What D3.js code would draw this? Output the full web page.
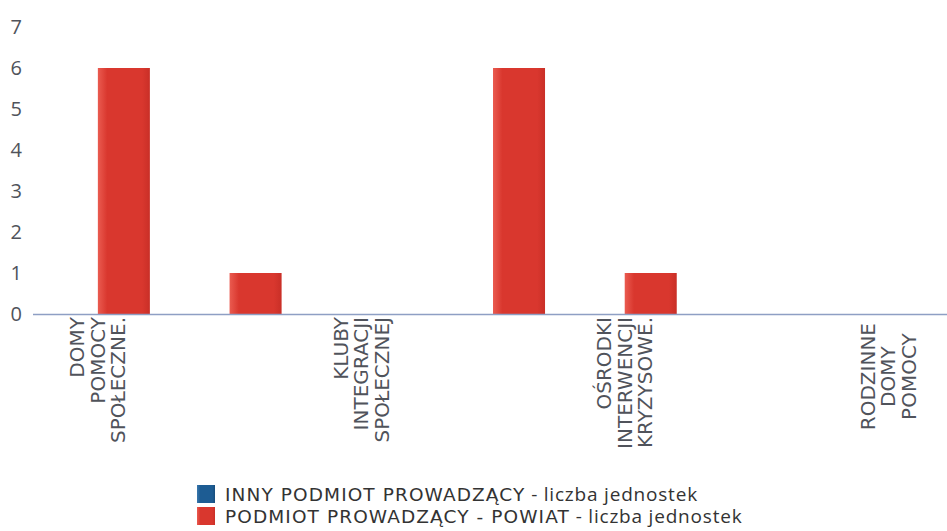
<!DOCTYPE html>
<html>
<head>
<meta charset="utf-8">
<script src="https://cdn.jsdelivr.net/npm/d3@7"></script>
<style>
  html, body { margin: 0; padding: 0; background: #fff; }
  svg { display: block; }
</style>
</head>
<body>
<div id="chart"></div>
<script>
// data
const categories = [
  ['DOMY', 'POMOCY', 'SPOŁECZNE.'],
  ['JEDNOSTKI', 'SPECJALISTYCZ.', 'PORADNICTWA'],
  ['KLUBY', 'INTEGRACJI', 'SPOŁECZNEJ'],
  ['MIESZKANIA', 'CHRONIONE'],
  ['OŚRODKI', 'INTERWENCJI', 'KRYZYSOWE.'],
  ['OŚRODKI', 'WSPARCIA'],
  ['RODZINNE', 'DOMY', 'POMOCY']
];
const seriesNames = [
  'INNY PODMIOT PROWADZĄCY - liczba jednostek',
  'PODMIOT PROWADZĄCY - POWIAT - liczba jednostek'
];
const innyValues   = [0, 0, 0, 0, 0, 0, 0];
const powiatValues = [6, 1, 0, 6, 1, 0, 0];
const yTicks = [0, 1, 2, 3, 4, 5, 6, 7];
const labelEvery = 2; // only every other category label fits

const W = 947, H = 531;
const colors = { inny: '#1d5c93', powiat: '#d9372e' };
const wideFont = '"DejaVu Sans", sans-serif';

const svg = d3.select('#chart').append('svg')
  .attr('width', W).attr('height', H)
  .style('font-family', '"Open Sans", sans-serif');

// bar gradients
const defs = svg.append('defs');
function grad(id, light, mid, dark){
  const g = defs.append('linearGradient').attr('id', id)
    .attr('x1', '0').attr('x2', '1').attr('y1', '0').attr('y2', '0');
  g.append('stop').attr('offset', '0%').attr('stop-color', light);
  g.append('stop').attr('offset', '18%').attr('stop-color', mid);
  g.append('stop').attr('offset', '85%').attr('stop-color', mid);
  g.append('stop').attr('offset', '100%').attr('stop-color', dark);
}
grad('g-inny', '#3a78ad', colors.inny, '#174d7c');
grad('g-powiat', '#ea5b50', colors.powiat, '#c92f27');

const keys = categories.map(c => c.join(' '));
const x0 = d3.scaleBand().domain(keys).range([32, 954])
  .paddingInner(0.21).paddingOuter(0.105);
const x1 = d3.scaleBand().domain(['inny', 'powiat']).range([0, x0.bandwidth()]);
const y = d3.scaleLinear().domain([0, 7]).range([314, 27]);

const rows = keys.map((k, i) => ({ key: k, lines: categories[i], inny: innyValues[i], powiat: powiatValues[i] }));

// y axis labels
const yAxis = d3.axisLeft(y).tickValues(yTicks).tickSize(0).tickPadding(0).tickFormat(d3.format('d'));
const gy = svg.append('g').attr('transform', 'translate(22,0)').call(yAxis);
gy.select('.domain').remove();
gy.selectAll('text')
  .attr('fill', '#50535b')
  .style('font-size', '20px')
  .style('font-family', '"Open Sans", sans-serif');

// bars
const groups = svg.append('g').selectAll('g').data(rows).join('g')
  .attr('transform', d => `translate(${x0(d.key)},0)`);
groups.selectAll('rect')
  .data(d => ['inny', 'powiat'].map(s => ({ s, v: d[s] })).filter(e => e.v > 0))
  .join('rect')
  .attr('x', e => x1(e.s))
  .attr('width', x1.bandwidth())
  .attr('y', e => y(e.v))
  .attr('height', e => y(0) - y(e.v))
  .attr('fill', e => `url(#g-${e.s})`);

// baseline
svg.append('line')
  .attr('x1', 33).attr('x2', W)
  .attr('y1', y(0) + 0.5).attr('y2', y(0) + 0.5)
  .attr('stroke', '#8e9fc4').attr('stroke-width', 1.5);

// category labels (rotated, multi-line)
const lineH = 20.5;
const labels = svg.append('g').selectAll('text')
  .data(rows.filter((d, i) => i % labelEvery === 0))
  .join('text')
  .attr('fill', '#50535b')
  .style('font-family', wideFont)
  .style('font-size', '20px');

labels.each(function(d){
  const t = d3.select(this);
  const cx = x0(d.key) + x0.bandwidth() / 2;
  const n = d.lines.length;
  // measure: long labels hug the axis, short ones are centred
  let longest = 0;
  d.lines.forEach(ln => {
    const tmp = t.append('tspan').text(ln);
    longest = Math.max(longest, tmp.node().getComputedTextLength());
    tmp.remove();
  });
  const hug = longest > 125;
  const top = y(0) + 3;
  const anchorY = hug ? top : top + 6 + longest / 2;
  t.attr('transform', `translate(${cx},${anchorY}) rotate(-90)`)
    .attr('text-anchor', hug ? 'end' : 'middle');
  d.lines.forEach((ln, i) => {
    t.append('tspan')
      .attr('x', 0)
      .attr('y', (i - (n - 1) / 2) * lineH + 7)
      .text(ln);
  });
});

// legend
const legend = svg.append('g').attr('transform', 'translate(197,485)');
const legendRows = [
  { name: seriesNames[0], fill: 'url(#g-inny)' },
  { name: seriesNames[1], fill: 'url(#g-powiat)' }
];
const li = legend.selectAll('g').data(legendRows).join('g')
  .attr('transform', (d, i) => `translate(0,${i * 22})`);
li.append('rect').attr('width', 18).attr('height', 18).attr('fill', d => d.fill);
const lt = li.append('text')
  .attr('x', 28).attr('y', 15.5)
  .attr('fill', '#333');
// upper-case part is set in a wide face, the unit suffix in the regular one
lt.append('tspan')
  .style('font-family', wideFont).style('font-size', '18.5px')
  .style('letter-spacing', '1.1px')
  .text(d => d.name.split(' - liczba')[0]);
lt.append('tspan')
  .style('font-size', '19px')
  .style('letter-spacing', '0.8px')
  .text(d => ' - liczba' + d.name.split(' - liczba')[1]);
</script>
</body>
</html>
